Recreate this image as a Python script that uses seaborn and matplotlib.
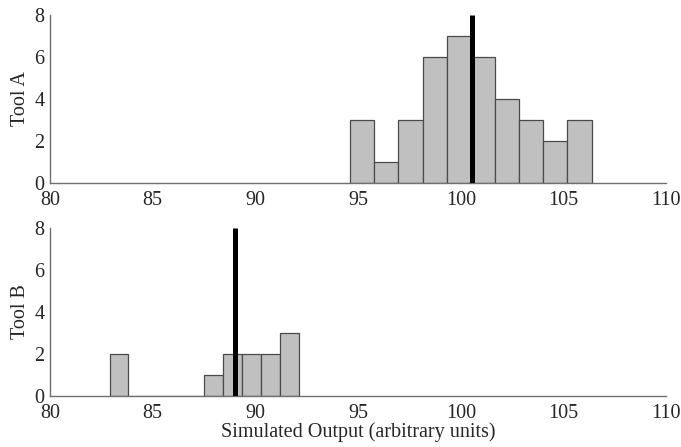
"""
plot.py

Two stacked histograms of simulated output for Tool A and Tool B,
with a thick vertical marker at each tool's reference value.
"""

import numpy as np
import matplotlib
matplotlib.use("Agg")
import matplotlib.pyplot as plt
import seaborn as sns

# ==========================================
# DATA
# ==========================================
TOOLS = ["Tool A", "Tool B"]

# Tool A: 10 bins from ~94.61 to ~106.37
TOOL_A_EDGES = [94.61, 95.79, 96.96, 98.14, 99.32, 100.49,
                101.67, 102.84, 104.02, 105.19, 106.37]
TOOL_A_COUNTS = [3, 1, 3, 6, 7, 6, 4, 3, 2, 3]
TOOL_A_MARK = 100.55

# Tool B: 10 bins from ~82.90 to ~92.10
TOOL_B_EDGES = [82.90, 83.82, 84.74, 85.66, 86.58, 87.50,
                88.42, 89.34, 90.26, 91.18, 92.10]
TOOL_B_COUNTS = [2, 0, 0, 0, 0, 1, 2, 2, 2, 3]
TOOL_B_MARK = 89.02

X_TICKS = [80, 85, 90, 95, 100, 105, 110]
Y_TICKS = [0, 2, 4, 6, 8]
X_LABEL = "Simulated Output (arbitrary units)"

BAR_COLOR = "#c0c0c0"
EDGE_COLOR = "#4a4a4a"
SPINE_COLOR = "#707070"
FONT_SIZE = 14.5


def draw_panel(ax, edges, counts, mark, label, show_xlabel):
    centers = [(lo + hi) / 2 for lo, hi in zip(edges[:-1], edges[1:])]
    sns.histplot(x=centers, weights=counts, bins=edges, ax=ax,
                 color=BAR_COLOR, edgecolor=EDGE_COLOR, linewidth=0.9,
                 alpha=1.0)
    ax.vlines(mark, 0, 8, color="black", linewidth=3.6, zorder=5)

    ax.set_xlim(80, 110)
    ax.set_ylim(0, 8)
    ax.set_xticks(X_TICKS)
    ax.set_yticks(Y_TICKS)
    ax.set_ylabel(label, fontsize=FONT_SIZE, labelpad=3)
    ax.set_xlabel(X_LABEL if show_xlabel else "", fontsize=FONT_SIZE, labelpad=-1)

    for side in ["top", "right"]:
        ax.spines[side].set_visible(False)
    for side in ["left", "bottom"]:
        ax.spines[side].set_color(SPINE_COLOR)
        ax.spines[side].set_linewidth(1.0)
    ax.tick_params(direction="in", length=4, width=0.8, color=SPINE_COLOR,
                   labelsize=FONT_SIZE)
    ax.tick_params(axis="x", pad=6)
    ax.tick_params(axis="y", pad=4)
    ax.grid(False)


def main():
    sns.set_theme(style="white")
    plt.rcParams["font.family"] = ["Liberation Serif", "DejaVu Serif"]

    fig = plt.figure(figsize=(6.81, 4.47), dpi=100)
    ax_a = fig.add_axes([0.0734, 0.591, 0.905, 0.375])
    ax_b = fig.add_axes([0.0734, 0.114, 0.905, 0.376])

    draw_panel(ax_a, TOOL_A_EDGES, TOOL_A_COUNTS, TOOL_A_MARK, TOOLS[0], False)
    draw_panel(ax_b, TOOL_B_EDGES, TOOL_B_COUNTS, TOOL_B_MARK, TOOLS[1], True)

    fig.savefig("out.png", dpi=100)


if __name__ == "__main__":
    main()
